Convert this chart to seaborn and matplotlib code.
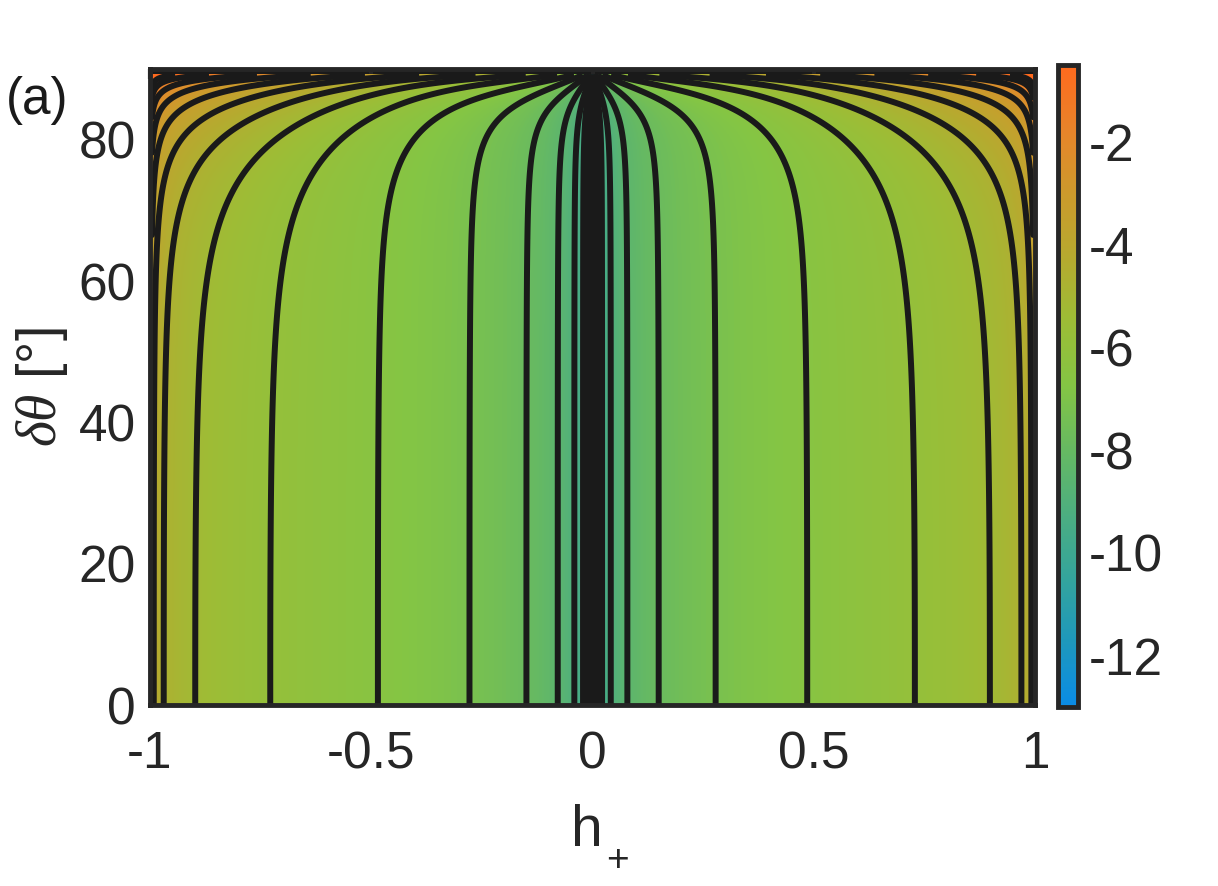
import numpy as np
import matplotlib
matplotlib.use('Agg')
import matplotlib.pyplot as plt
import seaborn as sns

# ── Values ────────────────────────────────────────────────────────────────
# contour levels (black lines), in colour-bar units
levels = [-12.4, -11.75, -11.1, -10.45, -9.8, -9.15, -8.5, -7.85, -7.2,
          -6.55, -5.9, -5.25, -4.6, -3.95, -3.3, -2.65, -2.0, -1.35, -0.7]
# colour-bar limits and colours sampled at evenly spaced values
cbar_min, cbar_max = -13.0, -0.5
cbar_colors = ['#0a8ce6', '#1e98bc', '#34a49c', '#4cae80', '#66b962',
               '#84c544', '#9cbd36', '#b6aa2f', '#cc9a2c', '#e8842a', '#ff6a1e']
cbar_ticks = [-12, -10, -8, -6, -4, -2]
x_ticks = [-1, -0.5, 0, 0.5, 1]
x_ticklabels = ['-1', '-0.5', '0', '0.5', '1']
y_ticks = [0, 20, 40, 60, 80]

# model of the field fitted to the line positions:
# offset + ln(|h|/sqrt(1-h^2)) + 0.5*ln(1 + (c0 + c1*h^4) * tan(dtheta)^q)
field_offset = -5.96
theta_c0 = 0.004
theta_c1 = 0.13
theta_pow = 2.5
h_edge = 0.995
theta_edge = 89.2

# ── Field on a grid ───────────────────────────────────────────────────────
h = np.linspace(-1, 1, 2001)
th = np.linspace(0, 90, 901)
H, T = np.meshgrid(h, th)
Ha = np.clip(np.abs(H), 1e-4, h_edge)
Tr = np.radians(np.clip(T, 0, theta_edge))
cc = theta_c0 + theta_c1 * Ha**4
F = (field_offset + np.log(Ha / np.sqrt(1 - Ha**2))
     + 0.5 * np.log(1 + cc * np.tan(Tr)**theta_pow))
# the top sliver is crowded with lines in the original: leave it black
F = np.ma.masked_where(T > theta_edge, F)

# ── Plot ──────────────────────────────────────────────────────────────────
sns.set_theme(style='white')
plt.rcParams['font.family'] = ['Liberation Sans', 'DejaVu Sans']
plt.rcParams['axes.unicode_minus'] = False
plt.rcParams['mathtext.fontset'] = 'custom'
plt.rcParams['mathtext.rm'] = 'Liberation Sans'
plt.rcParams['mathtext.it'] = 'Liberation Serif:italic'

ink = '#262626'
cmap = sns.blend_palette(cbar_colors, as_cmap=True)

fig = plt.figure(figsize=(12.18, 8.86), dpi=100)
ax = fig.add_axes([0.123, 0.204, 0.727, 0.718])
cax = fig.add_axes([0.8687, 0.202, 0.0164, 0.7246])

mesh = ax.pcolormesh(H, T, F, cmap=cmap, vmin=cbar_min, vmax=cbar_max,
                     shading='auto', rasterized=True)
ax.contour(H, T, F, levels=levels, colors='k', linewidths=4.3,
           linestyles='solid')
ax.set_facecolor('k')

ax.set_xlim(-1, 1)
ax.set_ylim(0, 90)
ax.set_xticks(x_ticks)
ax.set_xticklabels(x_ticklabels)
ax.set_yticks(y_ticks)
ax.tick_params(direction='in', length=7, width=3, color=ink, labelcolor=ink,
               labelsize=37, top=True, right=True)
ax.tick_params(axis='x', pad=18)
ax.tick_params(axis='y', pad=10)
for s in ax.spines.values():
    s.set_linewidth(3.5)
    s.set_color(ink)

ax.set_ylabel(r'$\delta\theta$ [°]', fontsize=40, color=ink, labelpad=6)
# x label "h" with a lowered "+" subscript, as in the MATLAB figure
fig.text(587 / 1218, 1 - 846 / 886, 'h', fontsize=41, color=ink,
         ha='center', va='baseline')
fig.text(617 / 1218, 1 - 861 / 886, '+', fontsize=28, color=ink,
         ha='center', va='center')

cb = fig.colorbar(mesh, cax=cax)
cb.set_ticks(cbar_ticks)
cb.ax.tick_params(direction='in', length=6, width=3, color=ink,
                  labelcolor=ink, labelsize=37, pad=8)
cb.outline.set_linewidth(3.5)
cb.outline.set_edgecolor(ink)

fig.text(0.005, 0.887, '(a)', fontsize=37, color='k', va='center', ha='left')

fig.savefig('out.png', dpi=100, facecolor='white')
